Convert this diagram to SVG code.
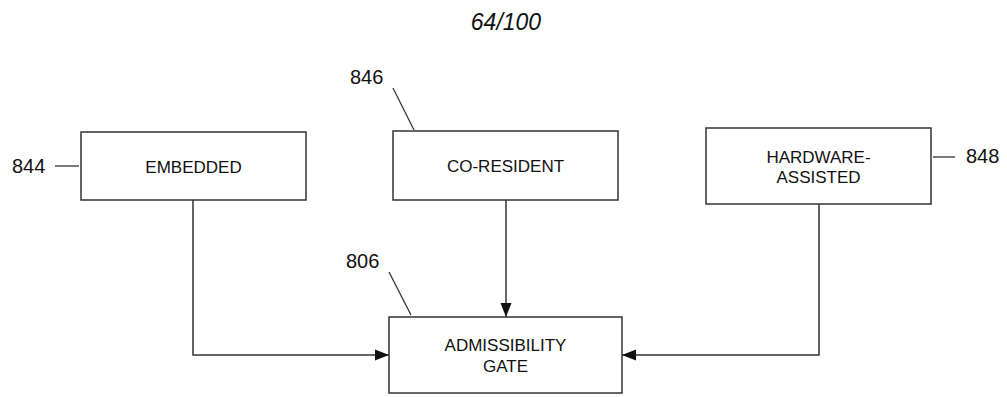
<svg xmlns="http://www.w3.org/2000/svg" width="1007" height="397" viewBox="0 0 1007 397">
<style>
.box{fill:#fff;stroke:#333;stroke-width:1.5}
.t{font-family:"Liberation Sans",Arial,sans-serif;font-size:17px;fill:#111;text-anchor:middle}
.ref{font-family:"Liberation Sans",Arial,sans-serif;font-size:20px;fill:#111}
.ld{stroke:#333;stroke-width:1.3;fill:none}
.c{stroke:#333;stroke-width:1.5;fill:none}
</style>
<defs>
<marker id="ah" markerWidth="14" markerHeight="12" refX="14" refY="6" orient="auto" markerUnits="userSpaceOnUse">
<path d="M0,0.5 L14,6 L0,11.5 Z" fill="#111"/>
</marker>
</defs>
<rect width="1007" height="397" fill="#fff"/>
<text x="506" y="30" font-family="Liberation Sans,Arial,sans-serif" font-size="23" font-style="italic" fill="#111" text-anchor="middle">64/100</text>
<g id="connectors">
<path class="c" d="M193,200 V355 H389" marker-end="url(#ah)"/>
<path class="c" d="M506,200 V317" marker-end="url(#ah)"/>
<path class="c" d="M819,204 V355 H622" marker-end="url(#ah)"/>
</g>
<g id="n844">
<rect class="box" x="81" y="132" width="225" height="68"/>
<text class="t" x="193.5" y="172.5">EMBEDDED</text>
<line class="ld" x1="55" y1="166" x2="79" y2="166"/>
<text class="ref" x="12" y="173">844</text>
</g>
<g id="n846">
<rect class="box" x="393" y="131" width="225" height="69"/>
<text class="t" x="505.5" y="172">CO-RESIDENT</text>
<line class="ld" x1="393" y1="88" x2="414" y2="130"/>
<text class="ref" x="350" y="84">846</text>
</g>
<g id="n848">
<rect class="box" x="706" y="128" width="225" height="76"/>
<text class="t" x="818.5" y="163">HARDWARE-</text>
<text class="t" x="818.5" y="183">ASSISTED</text>
<line class="ld" x1="933" y1="157" x2="955" y2="157"/>
<text class="ref" x="966" y="163">848</text>
</g>
<g id="n806">
<rect class="box" x="389" y="317" width="233" height="76"/>
<text class="t" x="505.5" y="351">ADMISSIBILITY</text>
<text class="t" x="505.5" y="371.5">GATE</text>
<line class="ld" x1="389" y1="272" x2="411" y2="315"/>
<text class="ref" x="346" y="268">806</text>
</g>
</svg>
